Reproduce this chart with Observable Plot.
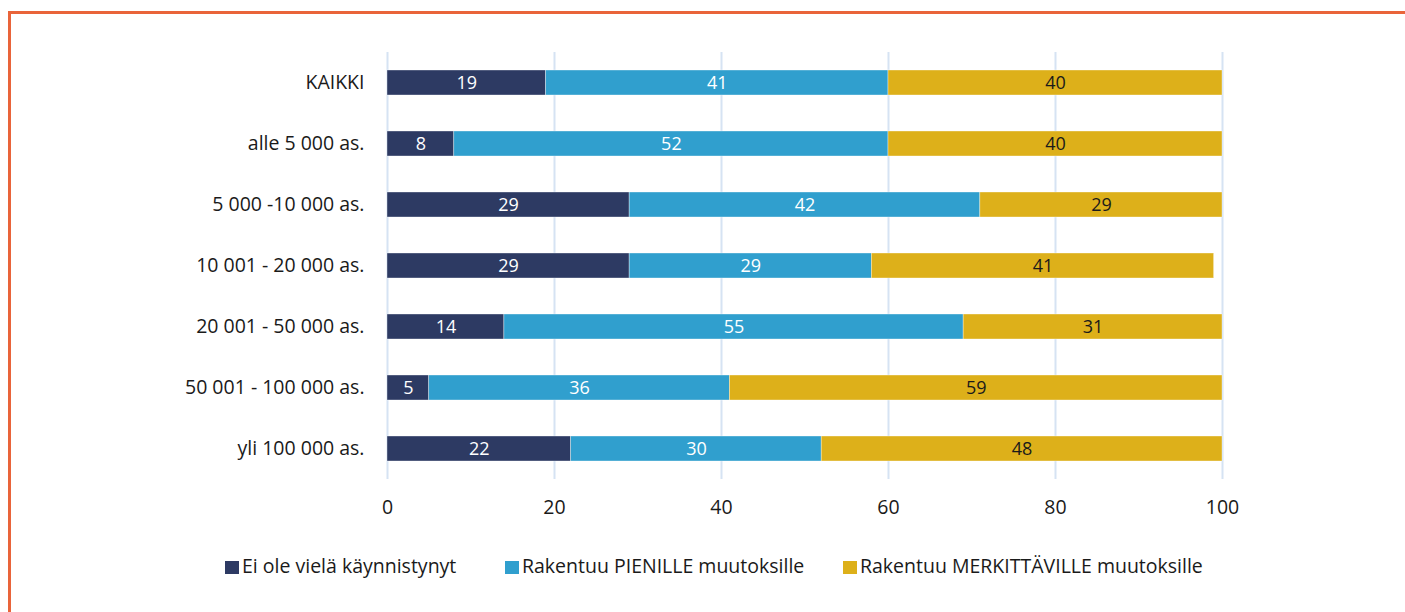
<!DOCTYPE html>
<html>
<head>
<meta charset="utf-8">
<script src="https://cdn.jsdelivr.net/npm/d3@7"></script>
<script src="https://cdn.jsdelivr.net/npm/@observablehq/plot@0.6"></script>
<style>
  html, body { margin: 0; padding: 0; background: #fff; }
  body { width: 1405px; height: 612px; position: relative; overflow: hidden; font-family: "Open Sans", sans-serif; }
  #frame { position: absolute; left: 8px; top: 11px; width: 1500px; height: 700px; border: 3px solid #e9643a; box-sizing: border-box; }
  #chart { position: absolute; left: 0; top: 0; }
  #legend { position: absolute; top: 556px; left: 0; width: 1405px; height: 24px; font-size: 19.5px; color: #1a1a1a; }
  .item { position: absolute; top: 0; height: 24px; white-space: nowrap; }
  .sw { position: absolute; left: 0; top: 5px; width: 14px; height: 13px; }
  .tx { position: absolute; left: 17px; top: -2px; line-height: 24px; }
</style>
</head>
<body>
<div id="frame"></div>
<div id="chart"></div>
<div id="legend"></div>
<script>
const categories = ["KAIKKI", "alle 5 000 as.", "5 000 -10 000 as.", "10 001 - 20 000 as.", "20 001 - 50 000 as.", "50 001 - 100 000 as.", "yli 100 000 as."];
const series = ["Ei ole vielä käynnistynyt", "Rakentuu PIENILLE muutoksille", "Rakentuu MERKITTÄVILLE muutoksille"];
const eiOle = [19, 8, 29, 29, 14, 5, 22];
const pienille = [41, 52, 42, 29, 55, 36, 30];
const merkittaville = [40, 40, 29, 41, 31, 59, 48];
const colors = ["#2d3a63", "#309fce", "#ddb01a"];
const xTicks = [0, 20, 40, 60, 80, 100];

const values = [eiOle, pienille, merkittaville];
const data = [];
categories.forEach((c, i) => {
  series.forEach((s, j) => data.push({cat: c, series: s, value: values[j][i]}));
});

const chart = Plot.plot({
  width: 1405,
  height: 530,
  marginLeft: 387,
  marginRight: 183,
  marginTop: 52,
  marginBottom: 51,
  style: {fontFamily: "'Open Sans', sans-serif", fontSize: "19.5px", color: "#1a1a1a", background: "transparent"},
  x: {domain: [0, 100], ticks: xTicks, tickSize: 0, tickPadding: 21, label: null},
  y: {domain: categories, paddingInner: 0.59, paddingOuter: 0.295, tickSize: 0, tickPadding: 23, label: null},
  color: {domain: series, range: colors},
  marks: [
    Plot.gridX(xTicks, {stroke: "#d6e3f3", strokeOpacity: 1, strokeWidth: 2}),
    Plot.barX(data, Plot.stackX({x: "value", y: "cat", fill: "series", stroke: "white", strokeWidth: 0.6, strokeOpacity: 0.6})),
    Plot.text(data, Plot.stackX({x: "value", y: "cat", text: d => d.series !== series[2] ? d.value : null, fill: "white", fontSize: 18})),
    Plot.text(data, Plot.stackX({x: "value", y: "cat", text: d => d.series === series[2] ? d.value : null, fill: "#1a1a1a", fontSize: 18}))
  ]
});
document.getElementById("chart").appendChild(chart);

const legendPos = [225, 505, 843];
const legend = document.getElementById("legend");
series.forEach((s, i) => {
  const it = document.createElement("div");
  it.className = "item";
  it.style.left = legendPos[i] + "px";
  const sw = document.createElement("span");
  sw.className = "sw";
  sw.style.background = colors[i];
  const t = document.createElement("span");
  t.className = "tx";
  t.textContent = s;
  it.appendChild(sw);
  it.appendChild(t);
  legend.appendChild(it);
});
</script>
</body>
</html>
